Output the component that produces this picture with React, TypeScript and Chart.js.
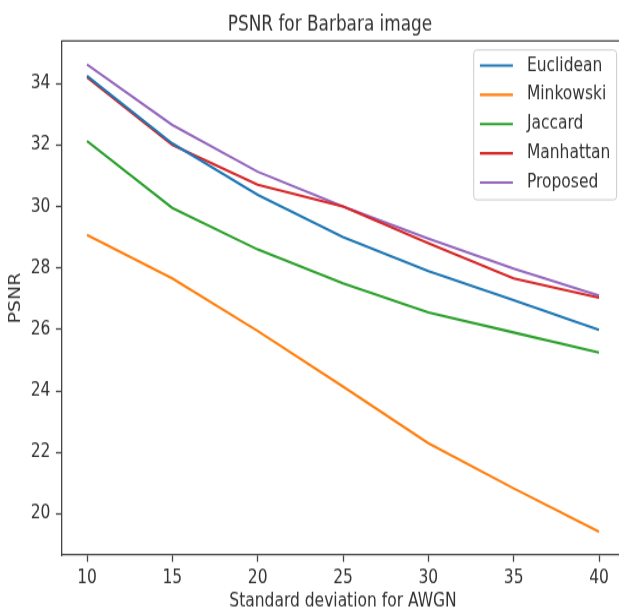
import React, { useEffect, useRef } from "react";
import { Chart, registerables } from "chart.js";

Chart.register(...registerables);

const xValues = [10, 15, 20, 25, 30, 35, 40];
const euclidean = [34.25, 32.05, 30.38, 29.0, 27.9, 26.95, 25.98];
const minkowski = [29.07, 27.66, 25.95, 24.14, 22.3, 20.83, 19.42];
const jaccard = [32.13, 29.95, 28.6, 27.5, 26.55, 25.9, 25.25];
const manhattan = [34.2, 32.0, 30.71, 30.0, 28.8, 27.66, 27.03];
const proposed = [34.62, 32.65, 31.13, 30.0, 28.95, 27.98, 27.1];
const seriesNames = ["Euclidean", "Minkowski", "Jaccard", "Manhattan", "Proposed"];
const seriesColors = ["#1f77b4", "#ff7f0e", "#2ca02c", "#d62728", "#9467bd"];
const xTicks = [10, 15, 20, 25, 30, 35, 40];
const yTicks = [20, 22, 24, 26, 28, 30, 32, 34];

const titleText = "PSNR for Barbara image";
const xTitle = "Standard deviation for AWGN";
const yTitle = "PSNR";

const CANVAS_W = 640;
const CANVAS_H = 502;
const STRETCH = 615 / CANVAS_H;
const PLOT_RIGHT = 624.6;
const FONT = "'DejaVu Sans', 'Noto Sans', sans-serif";
const TEXT = "#333333";
const SPINE = "#444444";

const allSeries = [euclidean, minkowski, jaccard, manhattan, proposed];

const framePlugin = {
  id: "frame",
  afterDatasetsDraw(chart: any) {
    const { ctx, chartArea } = chart;
    ctx.save();
    ctx.strokeStyle = SPINE;
    ctx.lineWidth = 1.3;
    ctx.beginPath();
    ctx.moveTo(chartArea.left, chartArea.top);
    ctx.lineTo(chartArea.right, chartArea.top);
    ctx.stroke();
    ctx.restore();
  },
};

const titlePlugin = {
  id: "mplTitle",
  afterDraw(chart: any) {
    const { ctx, chartArea } = chart;
    ctx.save();
    ctx.font = `16.9px ${FONT}`;
    ctx.fillStyle = TEXT;
    ctx.textAlign = "center";
    ctx.textBaseline = "alphabetic";
    ctx.fillText(titleText, (chartArea.left + chartArea.right) / 2 - 13, chartArea.top - 8.6);
    ctx.restore();
  },
};

const legendPlugin = {
  id: "mplLegend",
  afterDraw(chart: any) {
    const { ctx, chartArea } = chart;
    const fontSize = 15.5;
    ctx.save();
    ctx.font = `${fontSize}px ${FONT}`;
    const datasets = chart.data.datasets;
    let maxW = 0;
    datasets.forEach((d: any) => {
      maxW = Math.max(maxW, ctx.measureText(d.label).width);
    });
    const pad = 6.2;
    const handleLen = 33;
    const gap = 14;
    const rowGap = 23.9;
    const firstOff = 12.7;
    const boxW = pad + handleLen + gap + maxW + pad;
    const boxH = firstOff + rowGap * (datasets.length - 1) + 14;
    const right = chartArea.right - 8;
    const left = right - boxW;
    const top = chartArea.top + 7.3;
    ctx.fillStyle = "rgba(255,255,255,0.85)";
    ctx.strokeStyle = "#cccccc";
    ctx.lineWidth = 1;
    ctx.beginPath();
    (ctx as any).roundRect(left, top, boxW, boxH, 3);
    ctx.fill();
    ctx.stroke();
    datasets.forEach((d: any, i: number) => {
      const y = top + firstOff + i * rowGap;
      ctx.strokeStyle = d.borderColor;
      ctx.lineWidth = 2.1;
      ctx.beginPath();
      ctx.moveTo(left + pad, y);
      ctx.lineTo(left + pad + handleLen, y);
      ctx.stroke();
      ctx.fillStyle = TEXT;
      ctx.textBaseline = "middle";
      ctx.textAlign = "left";
      ctx.fillText(d.label, left + pad + handleLen + gap, y);
    });
    ctx.restore();
  },
};

export default function App() {
  const ref = useRef<HTMLCanvasElement | null>(null);

  useEffect(() => {
    if (!ref.current) return;
    let yMin = Infinity;
    let yMax = -Infinity;
    allSeries.forEach((s) => s.forEach((v) => {
      yMin = Math.min(yMin, v);
      yMax = Math.max(yMax, v);
    }));
    const yPad = (yMax - yMin) * 0.05;
    const xPad = (xValues[xValues.length - 1] - xValues[0]) * 0.05;

    const chart = new Chart(ref.current, {
      type: "line",
      data: {
        datasets: allSeries.map((s, i) => ({
          label: seriesNames[i],
          data: s.map((v, j) => ({ x: xValues[j], y: v })),
          borderColor: seriesColors[i],
          backgroundColor: seriesColors[i],
          borderWidth: 2.1,
          pointRadius: 0,
          pointHoverRadius: 0,
          tension: 0,
          fill: false,
        })),
      },
      options: {
        animation: false,
        responsive: false,
        devicePixelRatio: 1,
        events: [],
        layout: { padding: { left: 0, right: CANVAS_W - PLOT_RIGHT, top: 33.47, bottom: 0 } },
        plugins: {
          legend: { display: false },
          tooltip: { enabled: false },
          title: { display: false },
        },
        scales: {
          x: {
            type: "linear",
            min: xValues[0] - xPad,
            max: xValues[xValues.length - 1] + xPad,
            afterBuildTicks: (scale: any) => {
              scale.ticks = xTicks.map((v) => ({ value: v }));
            },
            afterFit: (scale: any) => {
              scale.height = CANVAS_H - 453.06;
            },
            ticks: {
              color: TEXT,
              font: { family: FONT, size: 15.5 },
              padding: 4,
              maxRotation: 0,
              autoSkip: false,
            },
            grid: {
              display: true,
              drawOnChartArea: false,
              drawTicks: true,
              tickLength: 5.5,
              tickColor: SPINE,
              tickWidth: 1.3,
            },
            border: { display: true, color: SPINE, width: 1.3 },
            title: {
              display: true,
              text: xTitle,
              color: TEXT,
              font: { family: FONT, size: 15.5 },
              padding: { top: 0, bottom: 2.2 },
            },
          },
          y: {
            type: "linear",
            min: yMin - yPad,
            max: yMax + yPad,
            afterBuildTicks: (scale: any) => {
              scale.ticks = yTicks.map((v) => ({ value: v }));
            },
            afterFit: (scale: any) => {
              scale.width = 61.4;
            },
            ticks: {
              color: TEXT,
              font: { family: FONT, size: 15.5 },
              padding: 5.5,
              autoSkip: false,
            },
            grid: {
              display: true,
              drawOnChartArea: false,
              drawTicks: true,
              tickLength: 5.5,
              tickColor: SPINE,
              tickWidth: 1.3,
            },
            border: { display: true, color: SPINE, width: 1.3 },
            title: {
              display: true,
              text: yTitle,
              color: TEXT,
              font: { family: FONT, size: 15.5 },
              padding: { top: 6.5, bottom: 0 },
            },
          },
        },
      },
      plugins: [framePlugin, titlePlugin, legendPlugin],
    });
    return () => chart.destroy();
  }, []);

  return (
    <div
      style={{
        position: "absolute",
        left: 0,
        top: 0,
        width: 619,
        height: 615,
        overflow: "hidden",
        background: "#ffffff",
      }}
    >
      <canvas
        ref={ref}
        width={CANVAS_W}
        height={CANVAS_H}
        style={{
          display: "block",
          width: CANVAS_W,
          height: CANVAS_H,
          transform: `scaleY(${STRETCH})`,
          transformOrigin: "0 0",
        }}
      />
    </div>
  );
}
